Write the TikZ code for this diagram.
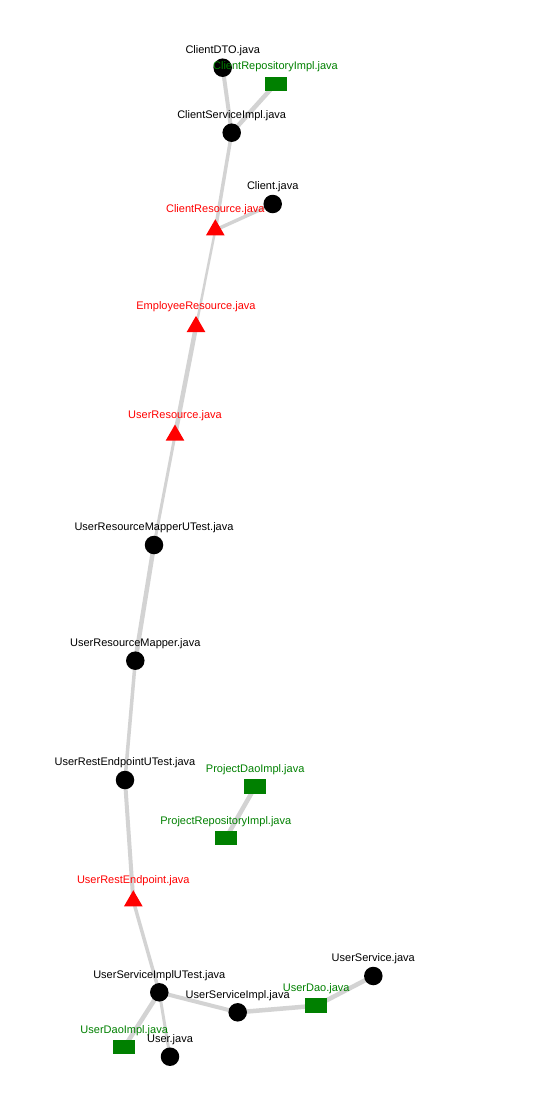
\documentclass[tikz,border=0pt]{standalone}
\usepackage{fontspec}
\setmainfont{Liberation Sans}
\usetikzlibrary{shapes.geometric,backgrounds}
\definecolor{edgegray}{RGB}{211,211,211}
\definecolor{webgreen}{RGB}{0,128,0}
\definecolor{webred}{RGB}{255,0,0}
\begin{document}
\begin{tikzpicture}[x=1pt,y=-1pt,
  cls/.style={circle,fill=black,minimum size=18.5pt,inner sep=0pt},
  tri/.style={regular polygon,regular polygon sides=3,fill=webred,minimum size=21.6pt,inner sep=0pt},
  box/.style={rectangle,fill=webgreen,minimum width=22pt,minimum height=14.5pt,inner sep=0pt},
  lblbase/.style={font=\fontsize{11}{13}\selectfont,anchor=base,inner sep=0pt},
  clbl/.style={lblbase,text=black,yshift=17pt},
  blbl/.style={lblbase,text=webgreen,yshift=17pt},
  tlbl/.style={lblbase,text=webred,yshift=19.9pt},
  link/.style={draw=edgegray,line width=#1}
]
\useasboundingbox (0,0) rectangle (538,1097);

\node[cls,label={[clbl]center:ClientDTO.java}] (cdto) at (222.7,67.7) {};
\node[box,label={[blbl]center:ClientRepositoryImpl.java}] (crepo) at (275.5,84) {};
\node[cls,label={[clbl]center:ClientServiceImpl.java}] (csi) at (231.7,132.7) {};
\node[cls,label={[clbl]center:Client.java}] (client) at (272.7,204) {};
\node[tri,label={[tlbl]center:ClientResource.java}] (cres) at (215.3,230) {};
\node[tri,label={[tlbl]center:EmployeeResource.java}] (emp) at (196,326.7) {};
\node[tri,label={[tlbl]center:UserResource.java}] (ures) at (175,435.3) {};
\node[cls,label={[clbl]center:UserResourceMapperUTest.java}] (urmut) at (154,545) {};
\node[cls,label={[clbl]center:UserResourceMapper.java}] (urm) at (135.3,660.7) {};
\node[cls,label={[clbl]center:UserRestEndpointUTest.java}] (reut) at (125,780) {};
\node[tri,label={[tlbl]center:UserRestEndpoint.java}] (rest) at (133.3,901) {};
\node[box,label={[blbl]center:ProjectDaoImpl.java}] (pdao) at (255.2,786.7) {};
\node[box,label={[blbl]center:ProjectRepositoryImpl.java}] (prepo) at (225.8,838.2) {};
\node[cls,label={[clbl]center:UserServiceImplUTest.java}] (usiut) at (159.3,992.3) {};
\node[cls,label={[clbl]center:UserServiceImpl.java}] (usi) at (237.7,1012.3) {};
\node[box,label={[blbl]center:UserDao.java}] (udao) at (316.2,1005.7) {};
\node[cls,label={[clbl]center:UserService.java}] (usvc) at (373.3,976) {};
\node[box,label={[blbl]center:UserDaoImpl.java}] (udaoi) at (124.2,1047.2) {};
\node[cls,label={[clbl]center:User.java}] (user) at (170,1056.7) {};

\begin{scope}[on background layer]
\draw[link=4pt] (cdto.center) -- (csi.center);
\draw[link=4.5pt] (crepo.center) -- (csi.center);
\draw[link=3.5pt] (csi.center) -- (cres.center);
\draw[link=3.5pt] (client.center) -- (cres.center);
\draw[link=2.5pt] (cres.center) -- (emp.center);
\draw[link=4.5pt] (emp.center) -- (ures.center);
\draw[link=3pt] (ures.center) -- (urmut.center);
\draw[link=4.5pt] (urmut.center) -- (urm.center);
\draw[link=3.5pt] (urm.center) -- (reut.center);
\draw[link=4pt] (reut.center) -- (rest.center);
\draw[link=3.5pt] (rest.center) -- (usiut.center);
\draw[link=4pt] (usiut.center) -- (usi.center);
\draw[link=4.5pt] (usi.center) -- (udao.center);
\draw[link=4.5pt] (udao.center) -- (usvc.center);
\draw[link=4.5pt] (usiut.center) -- (udaoi.center);
\draw[link=3pt] (usiut.center) -- (user.center);
\draw[link=4.5pt] (pdao.center) -- (prepo.center);
\end{scope}
\end{tikzpicture}
\end{document}
